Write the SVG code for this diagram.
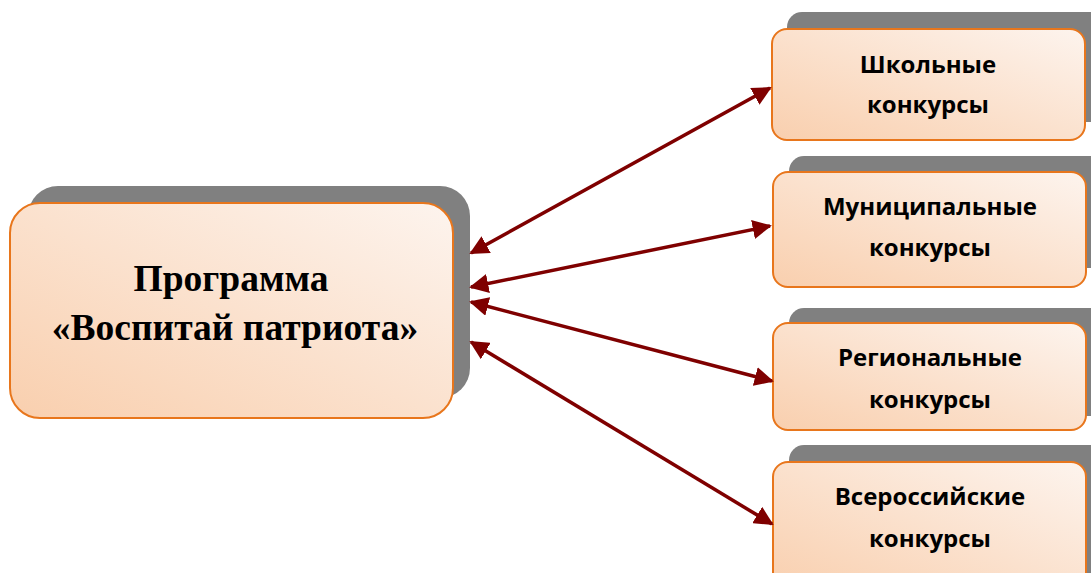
<svg xmlns="http://www.w3.org/2000/svg" width="1091" height="573" viewBox="0 0 1091 573">
<defs>
<linearGradient id="g" x1="0" y1="1" x2="1" y2="0">
<stop offset="0" stop-color="#f9cfae"/>
<stop offset="1" stop-color="#fdf4ee"/>
</linearGradient>
<marker id="ah" viewBox="0 0 10 10" refX="9" refY="5" markerWidth="5.5" markerHeight="5.5" orient="auto-start-reverse" markerUnits="strokeWidth">
<path d="M0,0 L10,5 L0,10 z" fill="#7f0000"/>
</marker>
</defs>
<style>
.sh{fill:#808080}
.box{fill:url(#g);stroke:#e8761c;stroke-width:2}
.t1{font-family:"Liberation Serif","Times New Roman",serif;font-weight:bold;font-size:37.5px;fill:#000;text-anchor:middle}
.t2{font-family:"Open Sans","Liberation Sans",sans-serif;font-weight:bold;font-size:24px;fill:#000;text-anchor:middle}
.c{stroke:#7f0000;stroke-width:3.5;fill:none;marker-start:url(#ah);marker-end:url(#ah)}
</style>
<rect width="1091" height="573" fill="#fff"/>
<g id="main">
<rect class="sh" x="28" y="186" width="442" height="212" rx="30"/>
<rect class="box" x="10" y="203" width="443" height="215" rx="30"/>
<text class="t1" x="231" y="291">Программа</text>
<text class="t1" x="235" y="340">«Воспитай патриота»</text>
</g>
<g id="n1">
<rect class="sh" x="787" y="12" width="320" height="110" rx="15"/>
<rect class="box" x="772" y="29" width="313" height="111" rx="15"/>
<text class="t2" x="928" y="73">Школьные</text>
<text class="t2" x="928" y="113">конкурсы</text>
</g>
<g id="n2">
<rect class="sh" x="789" y="156" width="320" height="112" rx="15"/>
<rect class="box" x="773" y="172" width="313" height="115" rx="15"/>
<text class="t2" x="930" y="215">Муниципальные</text>
<text class="t2" x="930" y="256">конкурсы</text>
</g>
<g id="n3">
<rect class="sh" x="789" y="308" width="320" height="108" rx="15"/>
<rect class="box" x="773" y="323" width="313" height="107" rx="15"/>
<text class="t2" x="930" y="366">Региональные</text>
<text class="t2" x="930" y="408">конкурсы</text>
</g>
<g id="n4">
<rect class="sh" x="789" y="445" width="320" height="140" rx="15"/>
<rect class="box" x="773" y="462" width="313" height="130" rx="15"/>
<text class="t2" x="930" y="505">Всероссийские</text>
<text class="t2" x="930" y="547">конкурсы</text>
</g>
<g id="connectors">
<line class="c" x1="471" y1="253" x2="770" y2="88"/>
<line class="c" x1="471" y1="287" x2="770" y2="226"/>
<line class="c" x1="471" y1="302" x2="772" y2="381"/>
<line class="c" x1="471" y1="342" x2="772" y2="524"/>
</g>
</svg>
